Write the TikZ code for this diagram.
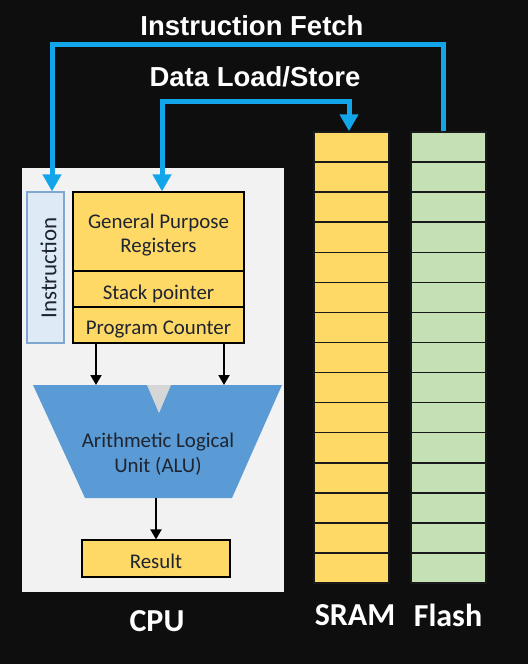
\documentclass[tikz,border=0pt]{standalone}
\usepackage{fontspec}
\setmainfont{Carlito}
\newfontfamily\titlefont{Liberation Sans}
\usetikzlibrary{arrows.meta}
\definecolor{bgc}{HTML}{0E0E0E}
\definecolor{cpubg}{HTML}{F2F2F2}
\definecolor{yel}{HTML}{FFD966}
\definecolor{grn}{HTML}{C5E0B4}
\definecolor{alublue}{HTML}{5B9BD5}
\definecolor{instrfill}{HTML}{DEEBF7}
\definecolor{instrline}{HTML}{7FA7CF}
\definecolor{cyanline}{HTML}{12A5EA}
\definecolor{notch}{HTML}{D6D6D6}
\definecolor{darktext}{HTML}{1E2430}
\tikzset{
  innerfont/.style={font=\fontsize{20.9}{24.5}\selectfont, text=darktext, align=center, inner sep=0pt},
  regbox/.style={draw=black, line width=1.2pt, fill=yel, minimum width=171pt, inner sep=0pt},
  cell/.style={draw=black!90, line width=1.5pt, minimum width=75pt, minimum height=30.07pt, inner sep=0pt},
  sramcell/.style={cell, fill=yel},
  flashcell/.style={cell, fill=grn},
  busarrow/.style={draw=cyanline, line width=5pt, -{Triangle[width=18pt,length=17pt]}},
  busarrowboth/.style={draw=cyanline, line width=5pt, {Triangle[width=18pt,length=17pt]}-{Triangle[width=18pt,length=17pt]}},
  blkarrow/.style={draw=black, line width=2pt, -{Triangle[width=11pt,length=10pt]}},
  titletext/.style={font=\titlefont\bfseries\fontsize{27.5}{30}\selectfont, text=white},
  labeltext/.style={font=\bfseries\fontsize{32}{36}\selectfont, text=white},
}
\begin{document}
\begin{tikzpicture}[x=1pt,y=-1pt]
\fill[bgc] (0,0) rectangle (528,664);
\useasboundingbox (0,0) rectangle (528,664);
% CPU box
\node[fill=cpubg, minimum width=262pt, minimum height=424pt, inner sep=0pt] (cpu) at (153,380) {};
% Instruction register
\node[draw=instrline, line width=1.2pt, fill=instrfill, minimum width=37pt, minimum height=151pt, inner sep=0pt] (instr) at (45.5,267.5) {};
\node[innerfont, rotate=90, font=\fontsize{23}{26}\selectfont] (instrtext) at (48.5,268) {Instruction};
% Registers
\node[regbox, minimum height=79pt] (gpr) at (158.5,231.5) {};
\node[regbox, minimum height=36pt] (sp) at (158.5,289) {};
\node[regbox, minimum height=36pt] (pc) at (158.5,325) {};
\node[innerfont] (gprtext) at ([yshift=-3.5pt]gpr.center) {General Purpose\\Registers};
\node[innerfont] (sptext) at ([yshift=-4.5pt]sp.center) {Stack pointer};
\node[innerfont] (pctext) at ([yshift=-4.5pt]pc.center) {Program Counter};
% ALU
\fill[alublue] (33,385) -- (282,385) -- (232,498) -- (85,498) -- cycle;
\fill[notch] (147,385) -- (171,385) -- (159,413) -- cycle;
\coordinate (aluin1) at (96,385);
\coordinate (aluin2) at (224,385);
\coordinate (aluout) at (156,498);
\node[innerfont] (alu) at (158,454) {Arithmetic Logical\\Unit (ALU)};
% Result
\node[regbox, minimum width=148pt, minimum height=37pt] (res) at (156,558.5) {};
\node[innerfont] (restext) at ([yshift=-2.5pt]res.center) {Result};
% black arrows
\draw[blkarrow] (pc.south -| aluin1) -- (aluin1);
\draw[blkarrow] (pc.south -| aluin2) -- (aluin2);
\draw[blkarrow] (aluout) -- (res.north -| aluout);
% memory columns
\foreach \i in {1,...,15}{
  \node[sramcell] (s\i) at (351.5,{132+(\i-0.5)*30.07}) {};
  \node[flashcell] (f\i) at (448.5,{132+(\i-0.5)*30.07}) {};
}
% buses
\draw[busarrow] ([xshift=-5.5pt]f1.north) -- ++(0,-87) -| ([xshift=6.5pt]instr.north);
\draw[busarrowboth] ([xshift=3.5pt]gpr.north) -- ++(0,-90) -| ([xshift=-2.5pt]s1.north);
% titles
\node[titletext] (t1) at (252,26) {Instruction Fetch};
\node[titletext] (t2) at (255,77) {Data Load/Store};
\node[labeltext] (cpul) at (157,621) {CPU};
\node[labeltext] (sraml) at (355,615) {SRAM};
\node[labeltext] (flashl) at (448,615) {Flash};
\end{tikzpicture}
\end{document}
